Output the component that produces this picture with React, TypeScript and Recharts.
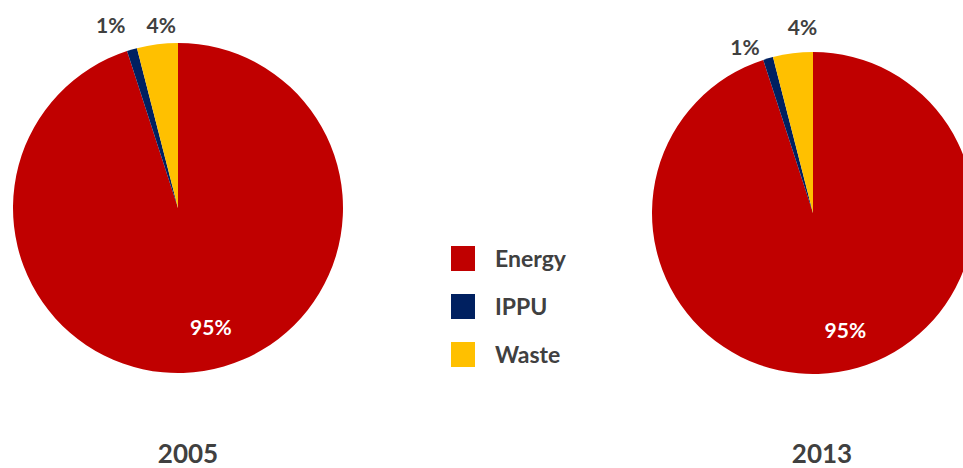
import React from 'react';
import { PieChart, Pie, Cell, Legend } from 'recharts';

const sectors = ['Energy', 'IPPU', 'Waste'];
const share2005 = [95, 1, 4];
const share2013 = [95, 1, 4];
const years = ['2005', '2013'];

const COLORS = ['#C00000', '#002060', '#FFC000'];
const FONT = 'Lato, "Open Sans", sans-serif';
const TEXT = '#404040';
const RAD = Math.PI / 180;

const toRows = (values: number[]) =>
  sectors.map((name, i) => ({ name, value: values[i] }));

// small outside slices get their labels nudged apart, the big one sits inside
const makeLabel = (shifts: number[], gaps: number[]) => (props: any) => {
  const { cx, cy, midAngle, outerRadius, index, value } = props;
  if (index === 0) {
    const r = outerRadius * 0.73;
    const x = cx + r * Math.cos(-midAngle * RAD);
    const y = cy + r * Math.sin(-midAngle * RAD);
    return (
      <text x={x + 14} y={y} fill="#fff" fontSize={21} fontWeight={700} fontFamily={FONT}
        textAnchor="middle" dominantBaseline="central">
        {value}%
      </text>
    );
  }
  const a = midAngle + shifts[index];
  const r = outerRadius + gaps[index];
  const x = cx + r * Math.cos(-a * RAD);
  const y = cy + r * Math.sin(-a * RAD);
  return (
    <text x={x} y={y} fill={TEXT} fontSize={21} fontWeight={700} fontFamily={FONT}
      textAnchor="middle" dominantBaseline="central">
      {value}%
    </text>
  );
};

const LegendBox = () => (
  <div style={{ fontFamily: FONT }}>
    {sectors.map((s, i) => (
      <div key={s} style={{ display: 'flex', alignItems: 'center', height: 48 }}>
        <div style={{ width: 24, height: 25, background: COLORS[i] }} />
        <span style={{ marginLeft: 20, fontSize: 23, fontWeight: 700, color: TEXT }}>{s}</span>
      </div>
    ))}
  </div>
);

export default function EmissionsBySector() {
  return (
    <div style={{ position: 'absolute', left: 0, top: 0, width: 963, height: 468, background: '#fff' }}>
      <PieChart width={963} height={468} margin={{ top: 0, right: 0, bottom: 0, left: 0 }}>
        <Pie data={toRows(share2005)} dataKey="value" cx={178} cy={208} outerRadius={165}
          startAngle={90} endAngle={-270} stroke="none" labelLine={false}
          label={makeLabel([0, 4, -2], [0, 30, 19])} isAnimationActive={false}>
          {sectors.map((s, i) => <Cell key={s} fill={COLORS[i]} />)}
        </Pie>
        <Pie data={toRows(share2013)} dataKey="value" cx={813} cy={213} outerRadius={161}
          startAngle={90} endAngle={-270} stroke="none" labelLine={false}
          label={makeLabel([0, 6, -4], [0, 19, 26])} isAnimationActive={false}>
          {sectors.map((s, i) => <Cell key={s} fill={COLORS[i]} />)}
        </Pie>
        <Legend content={<LegendBox />} wrapperStyle={{ left: 451, top: 234, width: 150 }} />
      </PieChart>
      {years.map((y, i) => (
        <div key={y} style={{
          position: 'absolute', top: 437, left: i === 0 ? 138 : 772, width: 100, textAlign: 'center',
          fontFamily: FONT, fontSize: 26, fontWeight: 700, color: TEXT,
        }}>
          {y}
        </div>
      ))}
    </div>
  );
}
